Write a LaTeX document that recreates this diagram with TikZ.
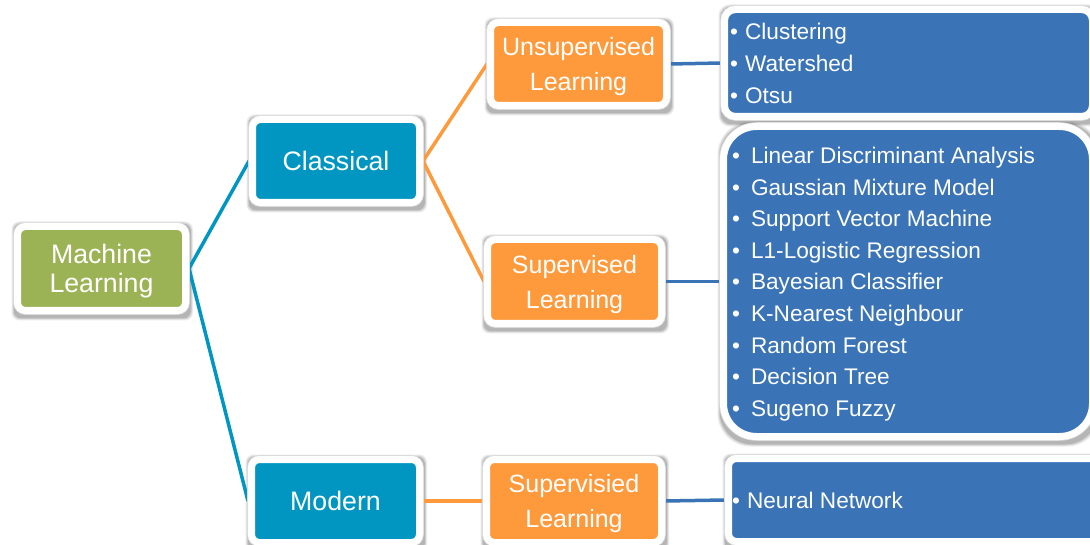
\documentclass[tikz,border=0pt]{standalone}
\usepackage{fontspec}
\setmainfont{Liberation Sans}

\definecolor{mlgreen}{HTML}{9BB354}
\definecolor{mlteal}{HTML}{0096C1}
\definecolor{mlorange}{HTML}{FF9A3C}
\definecolor{mlblue}{HTML}{3A74B6}

\pgfdeclarelayer{shade}
\pgfdeclarelayer{lines}
\pgfsetlayers{shade,lines,main}

\tikzset{
  card/.style={draw=white, line width=7pt, rounded corners=8pt, text=white,
    align=center, inner sep=0pt,
    preaction={draw=black!14, line width=8.6pt}},
  bigfont/.style={font=\fontsize{26.7}{29}\selectfont},
  midfont/.style={font=\fontsize{25}{35}\selectfont},
  rootbox/.style={card, fill=mlgreen, bigfont, text depth=0pt},
  kindbox/.style={card, fill=mlteal, bigfont},
  learnbox/.style={card, fill=mlorange, midfont, text depth=0pt},
  listbox/.style={card, fill=mlblue},
  item/.style={text=white, inner sep=0pt, anchor=base west,
    font=\fontsize{22.6}{31.6}\selectfont},
  link/.style={line width=3.5pt},
}

% soft shadow under a card
\newcommand\cardshade[2][8pt]{%
  \begin{pgfonlayer}{shade}
    \foreach \g/\o in {2.5pt/0.08, 1.5pt/0.10, 0.5pt/0.14}{
      \fill[black, opacity=\o, rounded corners=#1]
        ([xshift=-\g, yshift=-4pt-\g]#2.south west) rectangle
        ([xshift=1.5pt+\g, yshift=-1pt+\g]#2.north east);
    }
  \end{pgfonlayer}}

\begin{document}
\begin{tikzpicture}[x=1pt, y=-1pt]
\useasboundingbox (0,0) rectangle (1090,545);

% tree boxes
\node[rootbox, minimum width=168pt, minimum height=84pt] (ml) at (101.5,268.5) {Machine\\Learning};
\node[kindbox, minimum width=167pt, minimum height=83pt] (classical) at (336,161) {Classical};
\node[kindbox, minimum width=168pt, minimum height=83pt] (modern) at (335.5,501) {Modern};
\node[learnbox, minimum width=176pt, minimum height=83pt] (unsup) at (578.5,64) {Unsupervised\\Learning};
\node[learnbox, minimum width=174pt, minimum height=84pt] (sup) at (574.5,281.5) {Supervised\\Learning};
\node[learnbox, minimum width=175pt, minimum height=83pt] (supmod) at (574,501) {Supervisied\\Learning};

% method lists
\node[listbox, rounded corners=11pt, minimum width=368pt, minimum height=107pt] (unlist) at (908.5,63) {};
\node[listbox, rounded corners=33pt, minimum width=369pt, minimum height=310pt] (suplist) at (908,281.5) {};
\node[listbox, minimum width=380pt, minimum height=83pt] (nnlist) at (918.5,500) {};

\foreach \n in {ml,classical,modern,unsup,sup,supmod,nnlist} {\cardshade{\n}}
\cardshade[11pt]{unlist}
\cardshade[33pt]{suplist}

\foreach \t [count=\i from 0] in {Clustering, Watershed, Otsu}
  \node[item] (un\i) at (730,40+32*\i) {\textbullet\hspace{7pt}\t};

\foreach \t [count=\i from 0] in {Linear Discriminant Analysis, Gaussian Mixture Model,
    Support Vector Machine, L1-Logistic Regression, Bayesian Classifier,
    K-Nearest Neighbour, Random Forest, Decision Tree, Sugeno Fuzzy}
  \node[item] (sp\i) at (732,163.5+31.6*\i) {\textbullet\hspace{11pt}\t};

\node[item] (nn0) at (732,508) {\textbullet\hspace{7pt}Neural Network};

% connectors
\begin{pgfonlayer}{lines}
  \draw[link, mlteal] (ml.east) -- (classical.west);
  \draw[link, mlteal] (ml.east) -- (modern.west);
  \draw[link, mlorange] (classical.east) -- (unsup.west);
  \draw[link, mlorange] (classical.east) -- (sup.west);
  \draw[link, mlorange] (modern.east) -- (supmod.west);
  \draw[link, mlblue] (unsup.east) -- (unlist.west);
  \draw[link, mlblue] (sup.east) -- (suplist.west);
  \draw[link, mlblue] (supmod.east) -- (nnlist.west);
\end{pgfonlayer}
\end{tikzpicture}
\end{document}
